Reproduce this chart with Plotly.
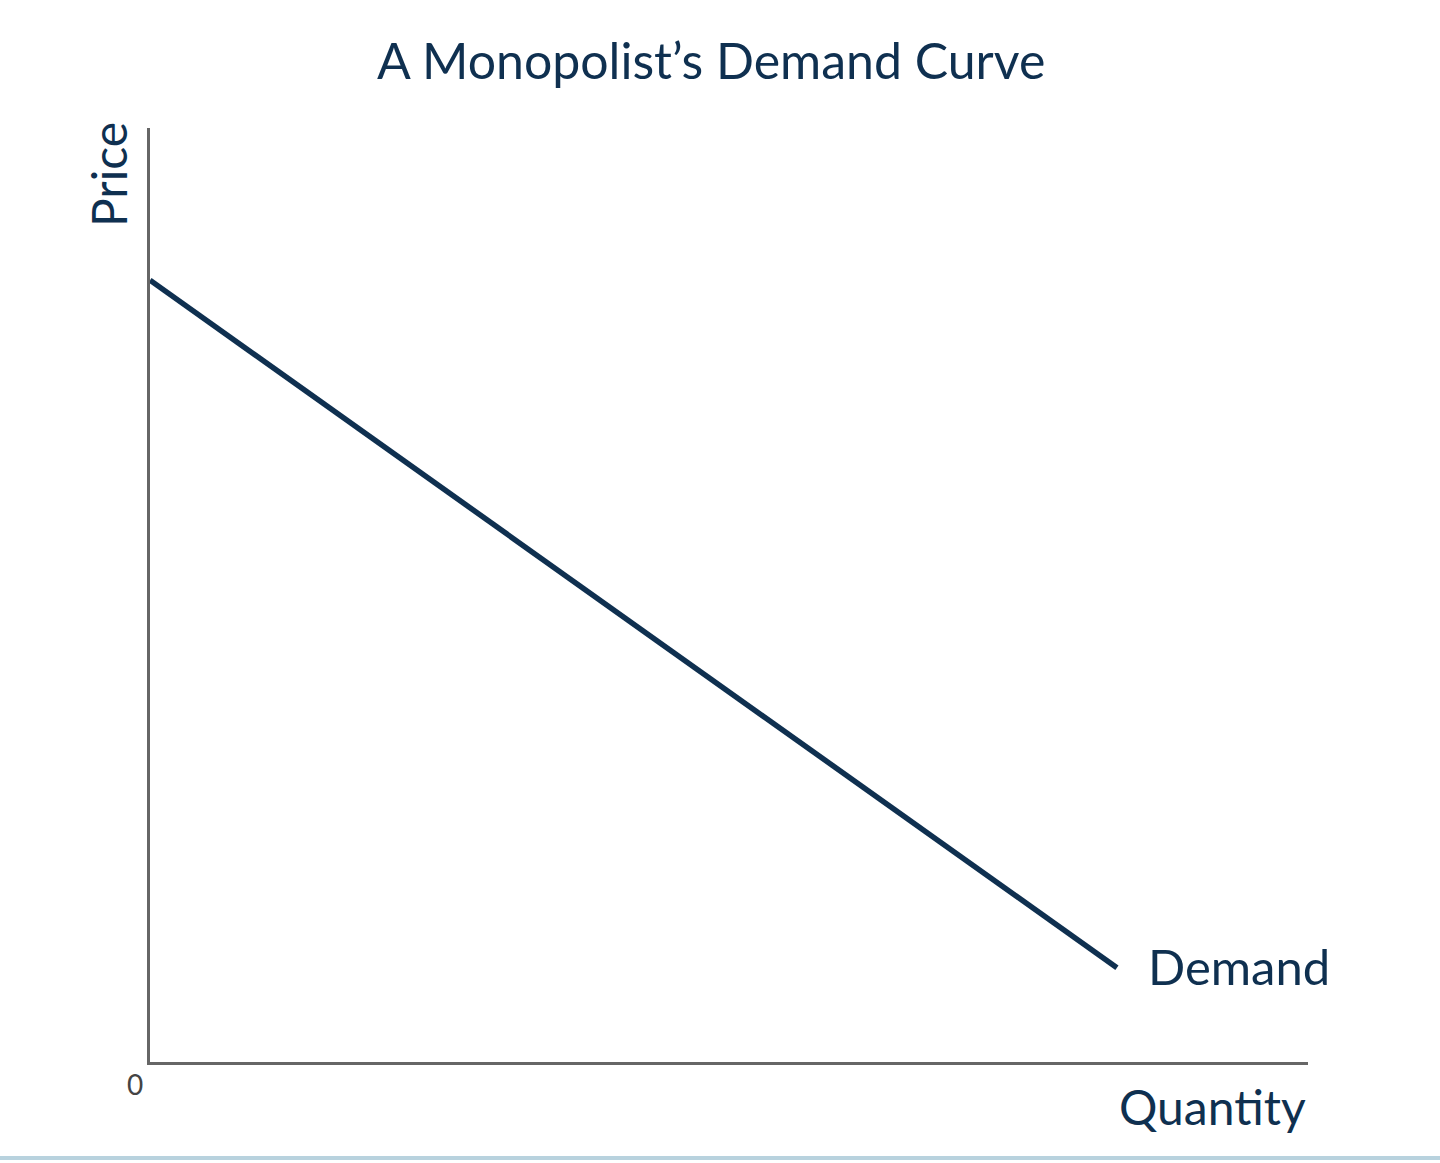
import plotly.graph_objects as go

# Data
quantity = [0, 83.5]
price = [83.7, 10.1]
curve_label = "Demand"
title_text = "A Monopolist’s Demand Curve"
x_label = "Quantity"
y_label = "Price"
origin_label = "0"

NAVY = "#0f3050"
FONT = "Lato"

W, H = 1440, 1163
L, R, T, B = 150, 1308, 128, 1062
pw, ph = R - L, B - T

def px(xp):
    return (xp - L) / pw

def py(yp):
    return (B - yp) / ph

fig = go.Figure()
fig.add_trace(go.Scatter(
    x=quantity, y=price, mode="lines",
    line=dict(color=NAVY, width=5.5),
    hoverinfo="skip", showlegend=False,
))

fig.update_layout(
    width=W, height=H,
    margin=dict(l=L, r=W - R, t=T, b=H - B),
    paper_bgcolor="white", plot_bgcolor="white",
    showlegend=False,
    xaxis=dict(range=[0, 100], showgrid=False, zeroline=False, showticklabels=False,
               ticks="", showline=True, linecolor="#666666", linewidth=2.5),
    yaxis=dict(range=[0, 100], showgrid=False, zeroline=False, showticklabels=False,
               ticks="", showline=True, linecolor="#666666", linewidth=2.5),
    annotations=[
        dict(text=title_text, x=px(711), y=py(60), xref="paper", yref="paper",
             showarrow=False, font=dict(family=FONT, size=50, color=NAVY),
             xanchor="center", yanchor="middle"),
        dict(text=y_label, x=px(108), y=py(175), xref="paper", yref="paper",
             showarrow=False, textangle=-90, font=dict(family=FONT, size=48, color=NAVY),
             xanchor="center", yanchor="middle"),
        dict(text=x_label, x=px(1212), y=py(1106), xref="paper", yref="paper",
             showarrow=False, font=dict(family=FONT, size=48, color=NAVY),
             xanchor="center", yanchor="middle"),
        dict(text=curve_label, x=px(1146), y=py(966), xref="paper", yref="paper",
             showarrow=False, font=dict(family=FONT, size=49, color=NAVY),
             xanchor="left", yanchor="middle"),
        dict(text=origin_label, x=px(135), y=py(1084), xref="paper", yref="paper",
             showarrow=False, font=dict(family=FONT, size=28, color="#444444"),
             xanchor="center", yanchor="middle"),
    ],
    shapes=[
        dict(type="line", xref="paper", yref="paper",
             x0=px(0), x1=px(W), y0=py(1158), y1=py(1158),
             line=dict(color="#b8d2de", width=4)),
    ],
)

fig.write_html("out.html")
